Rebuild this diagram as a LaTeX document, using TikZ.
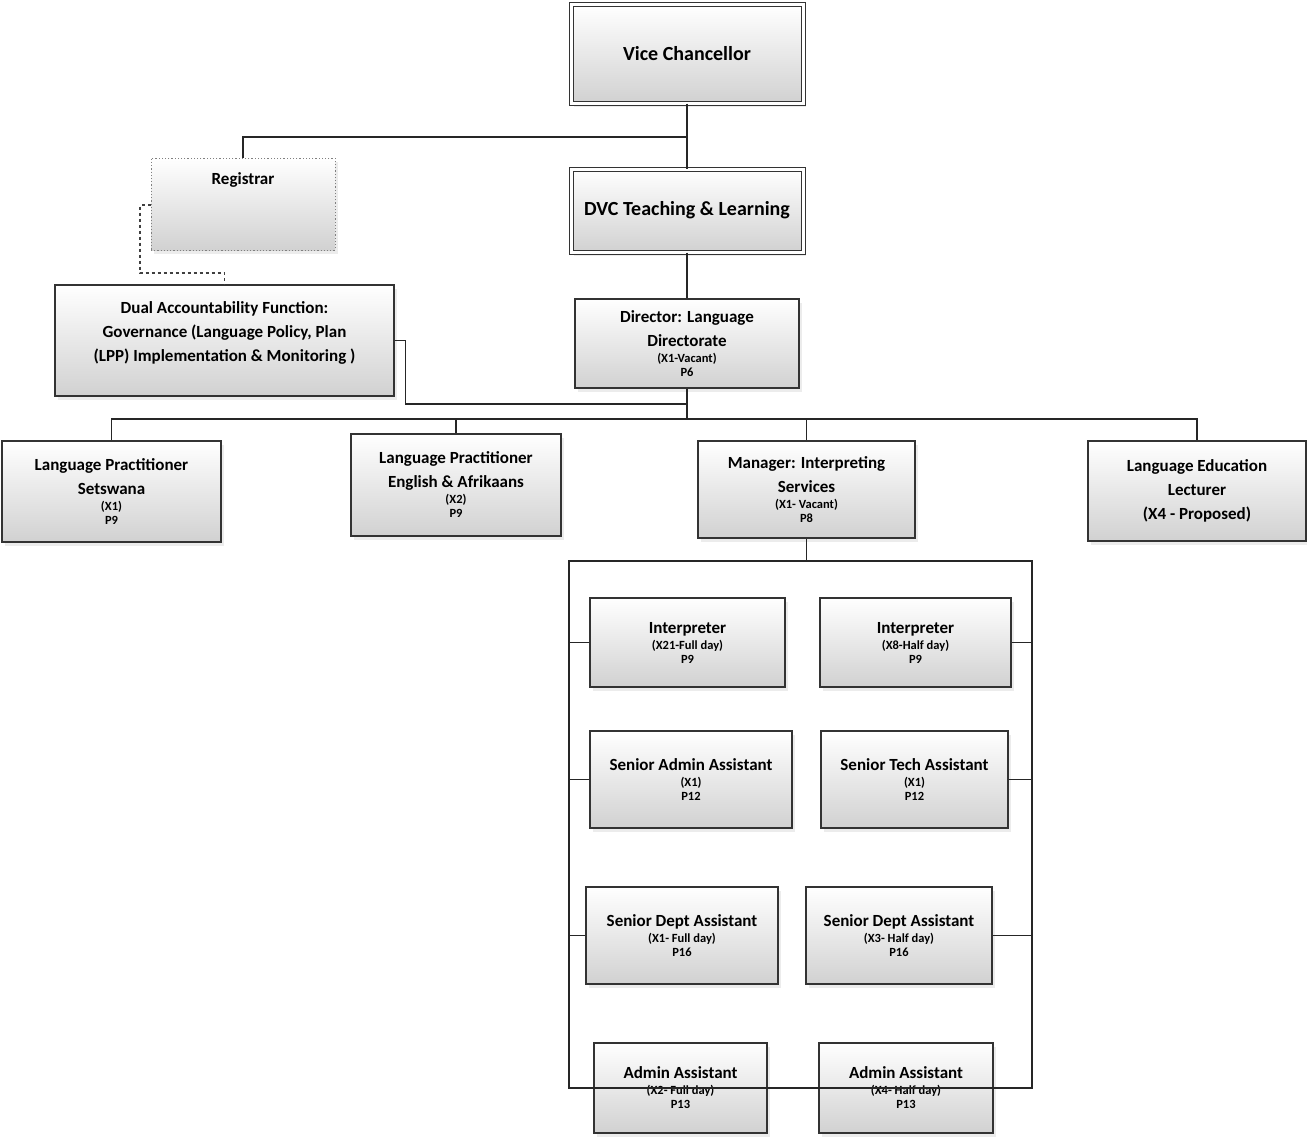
\documentclass[tikz,border=0pt]{standalone}
\usepackage{fontspec}
\setmainfont{Carlito}
\usetikzlibrary{shadows}
\tikzset{
  box/.style={draw=black!80, line width=1.2pt, top color=white, bottom color=black!18,
    align=center, font=\fontsize{17}{24}\selectfont\bfseries, inner sep=2pt,
    drop shadow={opacity=0.15, shadow xshift=3pt, shadow yshift=-4pt}},
  dbox/.style={box, double, double distance=3pt, line width=1pt, font=\fontsize{20}{24}\selectfont\bfseries},
  regbox/.style={box, draw=black!50, dotted, line width=1pt},
  line/.style={draw=black!85, line width=1.1pt},
}
\newcommand{\sm}[1]{{\fontsize{12.5}{23}\selectfont #1}}
\begin{document}
\begin{tikzpicture}[x=1pt, y=-1pt]
\useasboundingbox (0,0) rectangle (1307,1140);
\node[dbox, minimum width=232pt, minimum height=98pt] (vc) at (687,54) {Vice Chancellor};
\node[regbox, minimum width=184pt, minimum height=92pt, text depth=50pt] (reg) at (243,204) {Registrar};
\node[dbox, minimum width=232pt, minimum height=83pt] (dvc) at (687,210.5) {DVC Teaching \& Learning};
\node[box, minimum width=339pt, minimum height=111pt, text depth=18pt] (dual) at (224.5,340.5) {Dual Accountability Function:\\Governance (Language Policy, Plan\\(LPP) Implementation \& Monitoring )};
\node[box, minimum width=224pt, minimum height=89pt] (dir) at (687,343.5) {Director: Language\\Directorate\\[-8pt]\sm{(X1-Vacant)}\\[-10pt]\sm{P6}};
\node[box, minimum width=219pt, minimum height=101pt] (lps) at (111.5,491.5) {Language Practitioner\\Setswana\\[-8pt]\sm{(X1)}\\[-10pt]\sm{P9}};
\node[box, minimum width=210pt, minimum height=102pt] (lpe) at (456,485) {Language Practitioner\\English \& Afrikaans\\[-8pt]\sm{(X2)}\\[-10pt]\sm{P9}};
\node[box, minimum width=217pt, minimum height=97pt] (mgr) at (806.5,489.5) {Manager: Interpreting\\Services\\[-8pt]\sm{(X1- Vacant)}\\[-10pt]\sm{P8}};
\node[box, minimum width=218pt, minimum height=100pt] (lel) at (1197,491) {Language Education\\Lecturer\\(X4 - Proposed)};
\node[box, minimum width=195pt, minimum height=89pt] (int1) at (687.5,642.5) {Interpreter\\[-8pt]\sm{(X21-Full day)}\\[-10pt]\sm{P9}};
\node[box, minimum width=191pt, minimum height=89pt] (int2) at (915.5,642.5) {Interpreter\\[-8pt]\sm{(X8-Half day)}\\[-10pt]\sm{P9}};
\node[box, minimum width=202pt, minimum height=97pt] (saa) at (691,779.5) {Senior Admin Assistant\\[-8pt]\sm{(X1)}\\[-10pt]\sm{P12}};
\node[box, minimum width=187pt, minimum height=97pt] (sta) at (914.5,779.5) {Senior Tech Assistant\\[-8pt]\sm{(X1)}\\[-10pt]\sm{P12}};
\node[box, minimum width=192pt, minimum height=97pt] (sda1) at (682,935.5) {Senior Dept Assistant\\[-8pt]\sm{(X1- Full day)}\\[-10pt]\sm{P16}};
\node[box, minimum width=186pt, minimum height=97pt] (sda2) at (899,935.5) {Senior Dept Assistant\\[-8pt]\sm{(X3- Half day)}\\[-10pt]\sm{P16}};
\node[box, minimum width=173pt, minimum height=90pt] (aa1) at (680.5,1088) {Admin Assistant\\[-8pt]\sm{(X2- Full day)}\\[-10pt]\sm{P13}};
\node[box, minimum width=174pt, minimum height=90pt] (aa2) at (906,1088) {Admin Assistant\\[-8pt]\sm{(X4- Half day)}\\[-10pt]\sm{P13}};
% junctions
\coordinate (top) at (687,137);
\coordinate (mid) at (687,404);
\coordinate (bus) at (687,419);
\coordinate (busl) at (569,561);
\coordinate (busr) at (1032,1088);
\coordinate (dl) at (140,273);
% connectors
\draw[line] (vc) -- (dvc);
\draw[line] (top) -| (reg);
\draw[line] (dvc) -- (dir);
\draw[line, dashed, draw=black!75] (reg.west |- 0,205) -| (dl) -| (dual);
\draw[line] (dual.east) -- ++(11,0) |- (mid);
\draw[line] (dir) -- (bus);
\draw[line] (lps.north) |- (bus) -| (lel.north);
\draw[line] (lpe.north) -- (lpe.north |- bus);
\draw[line] (mgr.north) -- (mgr.north |- bus);
\draw[line] (mgr.south) -- (mgr.south |- busl);
\draw[line] (busl) rectangle (busr);
\foreach \n in {int1,saa,sda1,aa1} \draw[line] (\n.west) -- (\n.west -| busl);
\foreach \n in {int2,sta,sda2,aa2} \draw[line] (\n.east) -- (\n.east -| busr);
\end{tikzpicture}
\end{document}
